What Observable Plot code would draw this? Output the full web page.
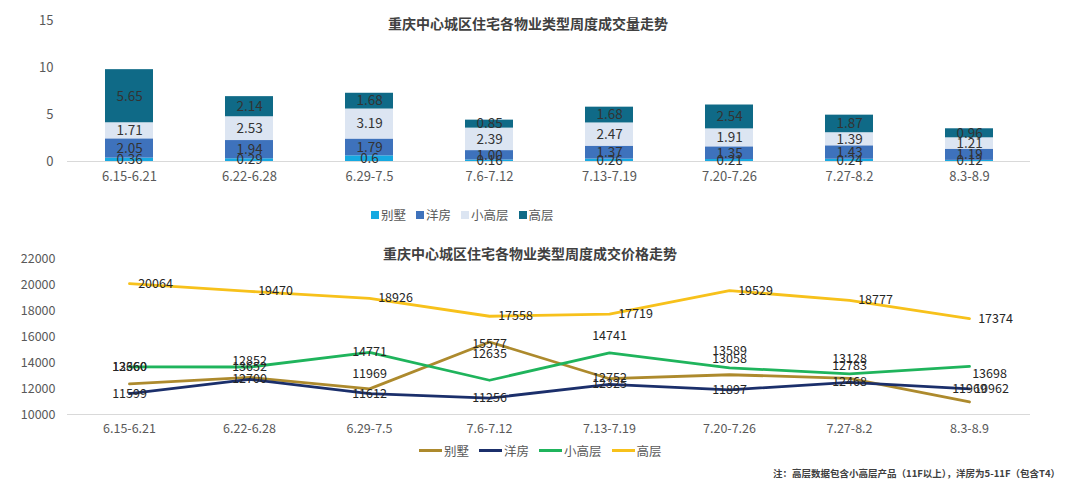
<!DOCTYPE html>
<html>
<head>
<meta charset="utf-8">
<script src="https://cdn.jsdelivr.net/npm/d3@7"></script>
<script src="https://cdn.jsdelivr.net/npm/@observablehq/plot@0.6"></script>
<style>
  html, body { margin: 0; padding: 0; background: #ffffff; }
  body { font-family: "Noto Sans CJK SC", "Noto Sans", sans-serif; }
  #root { position: relative; width: 1080px; height: 484px; overflow: hidden; background: #fff; }
  .abs { position: absolute; }
  .chart { width: 1080px; }
  .chart svg { display: block; background: transparent; }
  .title { font-weight: bold; font-size: 14px; color: #404040; white-space: nowrap; transform: translateX(-50%); }
  .legend { display: flex; align-items: center; font-size: 12.5px; color: #595959; white-space: nowrap; }
  .legend .item { display: flex; align-items: center; margin-right: 10px; }
  .sw { display: inline-block; width: 8px; height: 8px; margin-right: 2px; }
  .ln { display: inline-block; width: 23px; height: 3px; margin-right: 2px; }
  .note { font-size: 9.5px; font-weight: bold; color: #404040; white-space: nowrap; }
</style>
</head>
<body>
<div id="root">
  <div id="topChart" class="abs chart" style="left:0; top:0;"></div>
  <div id="bottomChart" class="abs chart" style="left:0; top:230px;"></div>
  <div class="abs title" style="left:528px; top:13px;">重庆中心城区住宅各物业类型周度成交量走势</div>
  <div class="abs title" style="left:530px; top:243px;">重庆中心城区住宅各物业类型周度成交价格走势</div>
  <div id="legend1" class="abs legend" style="left:371px; top:205px;"></div>
  <div id="legend2" class="abs legend" style="left:419px; top:441px;"></div>
  <div class="abs note" style="right:20px; top:466px;">注：高层数据包含小高层产品（11F以上），洋房为5-11F（包含T4）</div>
</div>
<script>
// ---- data ----
const weeks = ["6.15-6.21","6.22-6.28","6.29-7.5","7.6-7.12","7.13-7.19","7.20-7.26","7.27-8.2","8.3-8.9"];
const types = ["别墅","洋房","小高层","高层"];

// weekly transaction volume
const volBieshu   = [0.36, 0.29, 0.6, 0.16, 0.26, 0.21, 0.24, 0.12];
const volYangfang = [2.05, 1.94, 1.79, 1.00, 1.37, 1.35, 1.43, 1.19];
const volXiaogao  = [1.71, 2.53, 3.19, 2.39, 2.47, 1.91, 1.39, 1.21];
const volGaoceng  = [5.65, 2.14, 1.68, 0.85, 1.68, 2.54, 1.87, 0.96];

// weekly transaction price
const priceBieshu   = [12360, 12852, 11969, 15577, 12752, 13058, 12783, 10962];
const priceYangfang = [11599, 12700, 11612, 11256, 12325, 11897, 12468, 11969];
const priceXiaogao  = [13660, 13652, 14771, 12635, 14741, 13589, 13128, 13698];
const priceGaoceng  = [20064, 19470, 18926, 17558, 17719, 19529, 18777, 17374];

const volTicks = [0, 5, 10, 15];
const priceTicks = [10000, 12000, 14000, 16000, 18000, 20000, 22000];

// ---- styles ----
const barColors  = ["#16A9E1", "#3E72BC", "#DCE5F2", "#0F6A87"];
const lineColors = ["#AD8A2D", "#1B2F6B", "#1FB45C", "#F7C11B"];
const font = "'Noto Sans CJK SC', 'Noto Sans', sans-serif";
// data-label nudges (pixels), as placed in the source chart
const labelNudge = {
  "别墅":   {dx: [0, 0, 0, 0, 0, 0, 0, 22],  dy: [-17, -16, -15, 2, -1, -16, -12, -13]},
  "洋房":   {dx: [0, 0, 0, 0, 0, 0, 0, 0],   dy: [0, 0, 0, 0, 0, 0, 0, 0]},
  "小高层": {dx: [0, 0, 0, 0, 0, 0, 0, 20],  dy: [0, 0, 0, -26, -17, -17, -15, 8]},
  "高层":   {dx: [26, 26, 26, 26, 26, 26, 26, 26], dy: [0, 0, 0, 0, 0, 0, 0, 0]}
};

// ---- build tables ----
const volSeries = [volBieshu, volYangfang, volXiaogao, volGaoceng];
const volData = [];
weeks.forEach((w, i) => types.forEach((t, k) => volData.push({week: w, type: t, value: volSeries[k][i]})));
const fmtVol = v => (v === 1 ? "1.00" : String(v));

const priceSeries = [priceBieshu, priceYangfang, priceXiaogao, priceGaoceng];
const priceData = [];
types.forEach((t, k) => weeks.forEach((w, i) => priceData.push({week: w, type: t, value: priceSeries[k][i], idx: i})));

// ---- top chart: stacked bars ----
const volChart = Plot.plot({
  width: 1080, height: 200,
  marginTop: 20, marginBottom: 39, marginLeft: 67, marginRight: 50,
  style: {fontFamily: font, fontSize: "13px", color: "#595959", background: "transparent"},
  x: {domain: weeks, paddingInner: 0.6, paddingOuter: 0.3, label: null, tickSize: 0, tickPadding: 10},
  y: {domain: [0, 15], ticks: volTicks, label: null, tickSize: 0, tickPadding: 14},
  color: {domain: types, range: barColors},
  marks: [
    Plot.ruleY([0], {stroke: "#D9D9D9", strokeWidth: 1}),
    Plot.barY(volData, {x: "week", y: "value", fill: "type", order: types}),
    Plot.text(volData, Plot.stackY({x: "week", y: "value", z: "type", order: types,
      text: d => fmtVol(d.value), fill: "#333333", fontSize: 13.5}))
  ]
});
document.getElementById("topChart").appendChild(volChart);

// ---- bottom chart: lines ----
const byType = t => priceData.filter(d => d.type === t);
const labelMarks = [];
priceData.forEach(d => {
  const n = labelNudge[d.type];
  labelMarks.push(Plot.text([d], {x: "week", y: "value", text: r => String(r.value),
    fill: "#262626", fontSize: 12.5, dx: n.dx[d.idx], dy: n.dy[d.idx]}));
});
const priceChart = Plot.plot({
  width: 1080, height: 220,
  marginTop: 28, marginBottom: 36, marginLeft: 67, marginRight: 50,
  style: {fontFamily: font, fontSize: "12.5px", color: "#595959", background: "transparent"},
  x: {type: "point", domain: weeks, padding: 0.5, label: null, tickSize: 0, tickPadding: 10},
  y: {domain: [10000, 22000], ticks: priceTicks, tickFormat: d => String(d), label: null, tickSize: 0, tickPadding: 12},
  color: {domain: types, range: lineColors},
  marks: [
    Plot.ruleY([10000], {stroke: "#D9D9D9", strokeWidth: 1}),
    ...types.map(t => Plot.line(byType(t), {x: "week", y: "value", stroke: "type", strokeWidth: 2.8})),
    ...labelMarks
  ]
});
document.getElementById("bottomChart").appendChild(priceChart);

// ---- legends ----
const lg1 = document.getElementById("legend1");
types.forEach((t, k) => {
  const it = document.createElement("span");
  it.className = "item";
  it.innerHTML = `<span class="sw" style="background:${barColors[k]}"></span>${t}`;
  lg1.appendChild(it);
});
const lg2 = document.getElementById("legend2");
types.forEach((t, k) => {
  const it = document.createElement("span");
  it.className = "item";
  it.innerHTML = `<span class="ln" style="background:${lineColors[k]}"></span>${t}`;
  lg2.appendChild(it);
});
</script>
</body>
</html>
